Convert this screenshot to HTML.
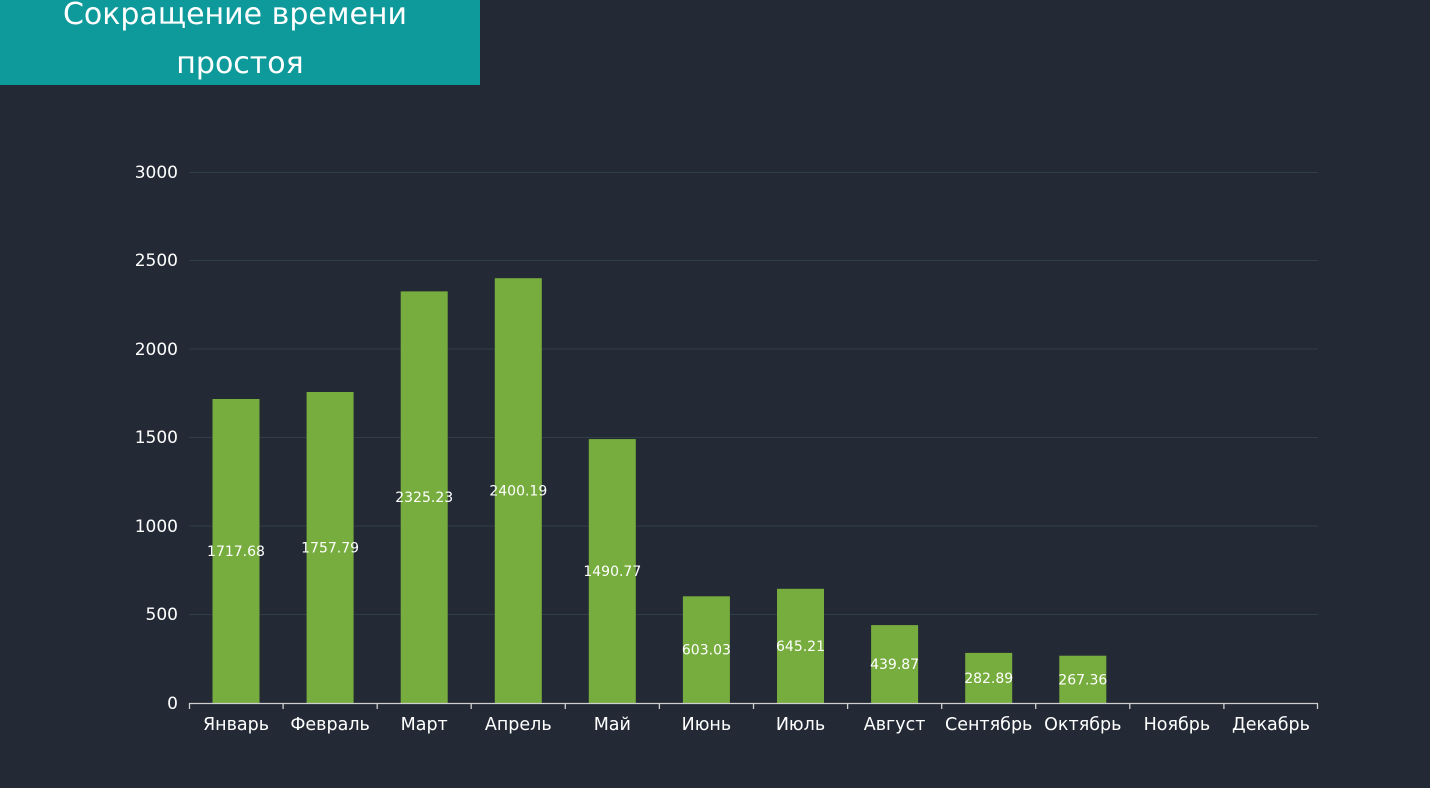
<!DOCTYPE html>
<html><head><meta charset="utf-8"><style>
html,body{margin:0;padding:0;background:#232a35;}
svg{display:block;}
text{font-family:"DejaVu Sans","Liberation Sans",sans-serif;}
</style></head><body>
<svg width="1430" height="788" viewBox="0 0 1430 788" xmlns="http://www.w3.org/2000/svg">
<rect width="1430" height="788" fill="#232a35"/>
<rect x="0" y="0" width="480" height="85" fill="#0e9a9b"/>
<text x="235" y="24" font-size="30" fill="#ffffff" text-anchor="middle">Сокращение времени</text>
<text x="240" y="73" font-size="30" fill="#ffffff" text-anchor="middle">простоя</text>
<g stroke="#2f3e48" stroke-width="1">
<line x1="189" y1="172.5" x2="1318" y2="172.5"/>
<line x1="189" y1="260.5" x2="1318" y2="260.5"/>
<line x1="189" y1="349" x2="1318" y2="349"/>
<line x1="189" y1="437.5" x2="1318" y2="437.5"/>
<line x1="189" y1="526" x2="1318" y2="526"/>
<line x1="189" y1="614.5" x2="1318" y2="614.5"/>
</g>
<g font-size="17" fill="#ffffff" text-anchor="end">
<text x="178" y="178">3000</text>
<text x="178" y="266">2500</text>
<text x="178" y="355">2000</text>
<text x="178" y="443">1500</text>
<text x="178" y="532">1000</text>
<text x="178" y="620">500</text>
<text x="178" y="709">0</text>
</g>
<g fill="#77ad3e">
<rect x="212.5" y="399" width="47" height="304"/>
<rect x="306.6" y="392" width="47" height="311"/>
<rect x="400.7" y="291.4" width="47" height="411.6"/>
<rect x="494.8" y="278.2" width="47" height="424.8"/>
<rect x="588.8" y="439.1" width="47" height="263.9"/>
<rect x="682.9" y="596.3" width="47" height="106.7"/>
<rect x="777" y="588.8" width="47" height="114.2"/>
<rect x="871.1" y="625.1" width="47" height="77.9"/>
<rect x="965.2" y="652.9" width="47" height="50.1"/>
<rect x="1059.3" y="655.7" width="47" height="47.3"/>
</g>
<g font-size="14" fill="#ffffff" text-anchor="middle">
<text x="236" y="556">1717.68</text>
<text x="330.1" y="552.5">1757.79</text>
<text x="424.2" y="502">2325.23</text>
<text x="518.3" y="495.5">2400.19</text>
<text x="612.3" y="576">1490.77</text>
<text x="706.4" y="654.5">603.03</text>
<text x="800.5" y="651">645.21</text>
<text x="894.6" y="669">439.87</text>
<text x="988.7" y="683">282.89</text>
<text x="1082.8" y="684.5">267.36</text>
</g>
<g stroke="#d0d0d0" stroke-width="1.3" fill="none">
<line x1="189" y1="703.5" x2="1318" y2="703.5"/>
<line x1="189.5" y1="703" x2="189.5" y2="709"/>
<line x1="283.1" y1="703" x2="283.1" y2="709"/>
<line x1="377.2" y1="703" x2="377.2" y2="709"/>
<line x1="471.2" y1="703" x2="471.2" y2="709"/>
<line x1="565.3" y1="703" x2="565.3" y2="709"/>
<line x1="659.4" y1="703" x2="659.4" y2="709"/>
<line x1="753.5" y1="703" x2="753.5" y2="709"/>
<line x1="847.6" y1="703" x2="847.6" y2="709"/>
<line x1="941.7" y1="703" x2="941.7" y2="709"/>
<line x1="1035.7" y1="703" x2="1035.7" y2="709"/>
<line x1="1129.8" y1="703" x2="1129.8" y2="709"/>
<line x1="1223.9" y1="703" x2="1223.9" y2="709"/>
<line x1="1317.5" y1="703" x2="1317.5" y2="709"/>
</g>
<g font-size="17.5" fill="#ffffff" text-anchor="middle">
<text x="236" y="730">Январь</text>
<text x="330.1" y="730">Февраль</text>
<text x="424.2" y="730">Март</text>
<text x="518.3" y="730">Апрель</text>
<text x="612.3" y="730">Май</text>
<text x="706.4" y="730">Июнь</text>
<text x="800.5" y="730">Июль</text>
<text x="894.6" y="730">Август</text>
<text x="988.7" y="730">Сентябрь</text>
<text x="1082.8" y="730">Октябрь</text>
<text x="1176.9" y="730">Ноябрь</text>
<text x="1271" y="730">Декабрь</text>
</g>
</svg>
</body></html>
